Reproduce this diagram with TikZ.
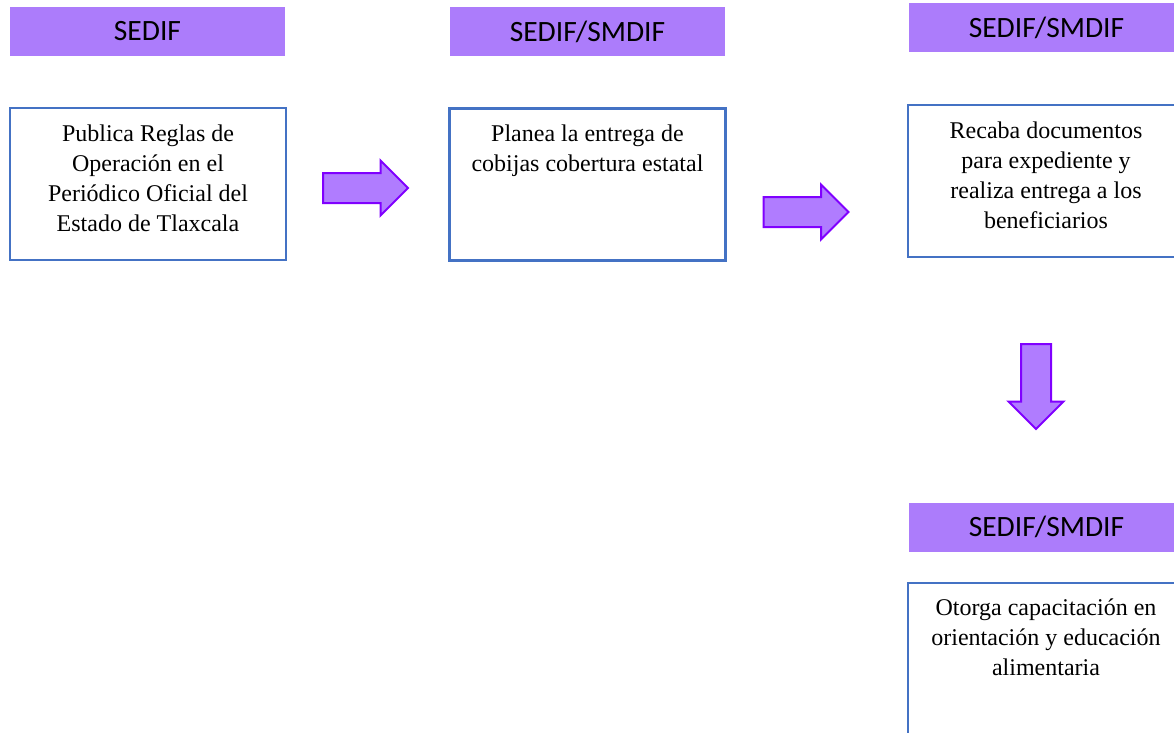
\documentclass[tikz,border=0pt]{standalone}
\usepackage{fontspec}
\setmainfont{Liberation Serif}
\newfontfamily\hdfont{Carlito}
\usetikzlibrary{positioning,shapes.arrows}
\definecolor{hdfill}{RGB}{172,124,251}
\definecolor{arrowfill}{RGB}{176,124,255}
\definecolor{arrowline}{RGB}{128,0,255}
\definecolor{boxline}{RGB}{68,114,196}
\tikzset{
  encabezado/.style={fill=hdfill, draw=none, minimum width=275pt, minimum height=49pt,
    inner sep=0pt, font=\hdfont\fontsize{29.5}{33}\selectfont},
  stepbox/.style={draw=boxline, line width=2.4pt, minimum width=276pt, minimum height=152pt, inner sep=0pt},
  boxtext/.style={align=center, inner sep=0pt, font=\fontsize{24}{30}\selectfont},
  flecha/.style={single arrow, draw=arrowline, fill=arrowfill, line width=2pt,
    minimum height=85pt, text height=14pt, text depth=14pt, minimum width=53pt,
    single arrow head extend=12.5pt, single arrow tip angle=90, inner sep=0pt}
}
\begin{document}
\begin{tikzpicture}[x=1pt,y=1pt]
  \useasboundingbox (0,0) rectangle (1174,-732);
  \clip (0,0) rectangle (1174,-732);
  % encabezados
  \node[encabezado] (h1) at (147.5,-31.5) {SEDIF};
  \node[encabezado] (h2) at (587.5,-31.5) {SEDIF/SMDIF};
  \node[encabezado] (h3) at (1046.5,-27.5) {SEDIF/SMDIF};
  \node[encabezado] (h4) at (1046.5,-527) {SEDIF/SMDIF};
  % cajas
  \node[stepbox] (b1) at (148,-184) {};
  \node[stepbox] (b2) at (587.5,-184.5) {};
  \node[stepbox] (b3) at (1046,-181) {};
  \node[stepbox] (b4) at (1046,-659) {};
  \node[boxtext, below=17.5pt of b1.north] (t1) {Publica Reglas de\\Operación en el\\Periódico Oficial del\\Estado de Tlaxcala};
  \node[boxtext, below=17.5pt of b2.north] (t2) {Planea la entrega de\\cobijas cobertura estatal};
  \node[boxtext, below=17.5pt of b3.north] (t3) {Recaba documentos\\para expediente y\\realiza entrega a los\\beneficiarios};
  \node[boxtext, below=16.5pt of b4.north] (t4) {Otorga capacitación en\\orientación y educación\\alimentaria};
  % flechas
  \node[flecha] (f1) at (358,-188) {};
  \node[flecha] (f2) at (798.5,-212) {};
  \node[flecha, rotate=-90] (f3) at (1036,-379) {};
\end{tikzpicture}
\end{document}
